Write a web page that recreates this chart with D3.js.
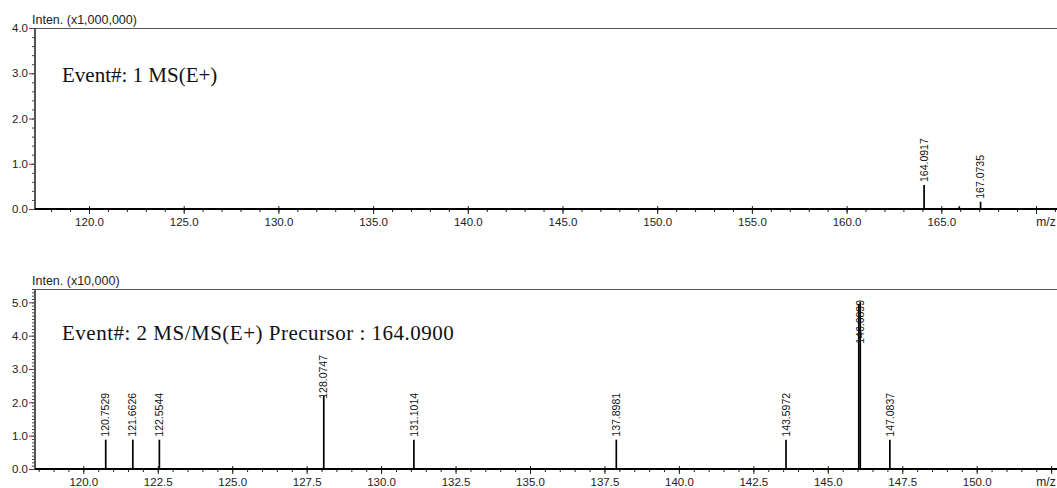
<!DOCTYPE html>
<html>
<head>
<meta charset="UTF-8">
<script src="https://d3js.org/d3.v7.min.js"></script>
<style>
  body { margin: 0; background: #fff; }
  svg { display: block; font-family: "Liberation Sans", Arial, sans-serif; }
  .tick text { fill: #222; }
</style>
</head>
<body>
<svg width="1057" height="488"></svg>
<script>
// panel 1 : Event 1 MS(E+), intensity x1,000,000
const topMz = [164.0917, 165.95, 167.0735];
const topInt = [0.53, 0.06, 0.16];
const topLabels = ["164.0917", "", "167.0735"];
const topYTicks = [0.0, 1.0, 2.0, 3.0, 4.0];
const topXTicks = [120, 125, 130, 135, 140, 145, 150, 155, 160, 165, 170];

// panel 2 : Event 2 MS/MS(E+), intensity x10,000
const botMz = [120.7529, 121.6626, 122.5544, 128.0747, 131.1014, 137.8981, 143.5972, 146.04, 146.0899, 147.0837];
const botInt = [0.88, 0.88, 0.88, 2.2, 0.88, 0.88, 0.88, 4.95, 5.0, 0.88];
const botLabels = ["120.7529", "121.6626", "122.5544", "128.0747", "131.1014", "137.8981", "143.5972", "", "146.0899", "147.0837"];
const botYTicks = [0.0, 1.0, 2.0, 3.0, 4.0, 5.0];
const botXTicks = [120, 122.5, 125, 127.5, 130, 132.5, 135, 137.5, 140, 142.5, 145, 147.5, 150, 152.5];

const svg = d3.select("svg");

function panel(o) {
  const g = svg.append("g");
  const x = d3.scaleLinear().domain(o.xDomain).range([35, 1057]);
  const y = d3.scaleLinear().domain([0, o.yMax]).range([o.y0, o.yTop]);

  // frame top line
  g.append("line").attr("x1", 35).attr("x2", 1057)
    .attr("y1", o.yTop + 0.5).attr("y2", o.yTop + 0.5)
    .attr("stroke", "#555").attr("stroke-width", 1);

  // y axis minor + major
  g.append("g").attr("transform", "translate(35,0)")
    .call(d3.axisLeft(y).tickValues(d3.range(0, o.yMax + 0.001, o.yMinor)).tickSize(3).tickFormat(""))
    .call(a => a.select(".domain").remove())
    .selectAll("line").attr("stroke", "#444");
  g.append("g").attr("transform", "translate(35,0)")
    .call(d3.axisLeft(y).tickValues(o.yTicks).tickSize(6).tickPadding(1).tickFormat(d3.format(".1f")))
    .call(a => a.select(".domain").remove())
    .call(a => a.selectAll("text").attr("font-size", 11.5).attr("font-family", "Liberation Sans, Arial"))
    .selectAll("line").attr("stroke", "#444");
  g.append("line").attr("x1", 35).attr("x2", 35).attr("y1", o.yTop).attr("y2", o.y0)
    .attr("stroke", "#555").attr("stroke-width", 2);

  // x axis minor + major
  const xd = x.domain();
  g.append("g").attr("transform", `translate(0,${o.y0})`)
    .call(d3.axisBottom(x).tickValues(d3.range(Math.ceil(xd[0] / o.xMinor) * o.xMinor, xd[1], o.xMinor)).tickSize(3).tickFormat(""))
    .call(a => a.select(".domain").remove())
    .selectAll("line").attr("stroke", "#222");
  const maj = g.append("g").attr("transform", `translate(0,${o.y0})`)
    .call(d3.axisBottom(x).tickValues(o.xTicks).tickSize(5).tickPadding(4).tickFormat(d3.format(".1f")))
    .call(a => a.select(".domain").remove())
    .call(a => a.selectAll("text").attr("font-size", 11.5).attr("font-family", "Liberation Sans, Arial"));
  maj.selectAll(".tick line").attr("y1", -3).attr("stroke", "#222");
  maj.selectAll(".tick").filter(d => x(d) > 1030).select("text").remove();
  g.append("line").attr("x1", 35).attr("x2", 1057).attr("y1", o.y0).attr("y2", o.y0)
    .attr("stroke", "#000").attr("stroke-width", 2);

  g.append("text").attr("x", 1046).attr("y", o.y0 + 17).attr("text-anchor", "middle")
    .attr("font-size", 12).attr("fill", "#222").text("m/z");
  g.append("text").attr("x", 32).attr("y", o.yTop - 4)
    .attr("font-size", 12.5).attr("fill", "#222").text(o.unit);

  const ev = g.append("text").attr("x", 62).attr("y", o.yTop + o.evDy)
    .attr("font-family", "Liberation Serif, Times New Roman, serif")
    .attr("font-size", 21).attr("letter-spacing", o.evSpacing).attr("fill", "#111").text(o.event);
  const eb = ev.node().getBBox();

  // peaks
  const peaks = o.mz.map((m, i) => ({ m, v: o.inten[i], lab: o.labels[i] }));
  g.selectAll(".pk").data(peaks).enter().append("line")
    .attr("x1", d => x(d.m)).attr("x2", d => x(d.m))
    .attr("y1", o.y0).attr("y2", d => y(d.v))
    .attr("stroke", "#000").attr("stroke-width", 1.7);

  // labels sit above the peak, pushed down when they would hit the frame or the event text
  g.selectAll(".pl").data(peaks.filter(d => d.lab)).enter().append("text")
    .attr("font-size", 10.5).attr("fill", "#111").attr("dy", "0.35em")
    .text(d => d.lab)
    .each(function (d) {
      const len = this.getComputedTextLength();
      const px = x(d.m);
      let ceil = o.yTop + 11;
      if (px > eb.x - 5 && px < eb.x + eb.width + 5) ceil = eb.y + eb.height + 10;
      const yb = Math.max(y(d.v) - 3, ceil + len);
      d3.select(this).attr("transform", `translate(${px},${yb}) rotate(-90)`);
    });
}

panel({
  xDomain: [120 - 54 / 18.94, 120 + 968 / 18.94], xTicks: topXTicks, xMinor: 1,
  yMax: 4.0, yTicks: topYTicks, yMinor: 0.2, yTop: 28, y0: 209,
  mz: topMz, inten: topInt, labels: topLabels,
  unit: "Inten. (x1,000,000)", event: "Event#: 1 MS(E+)", evDy: 54, evSpacing: 0
});

panel({
  xDomain: [120 - 48.3 / 29.78, 120 + 973.7 / 29.78], xTicks: botXTicks, xMinor: 0.5,
  yMax: 5.4, yTicks: botYTicks, yMinor: 0.1, yTop: 289, y0: 469,
  mz: botMz, inten: botInt, labels: botLabels,
  unit: "Inten. (x10,000)", event: "Event#: 2 MS/MS(E+) Precursor : 164.0900", evDy: 51, evSpacing: 0.5
});
</script>
</body>
</html>
